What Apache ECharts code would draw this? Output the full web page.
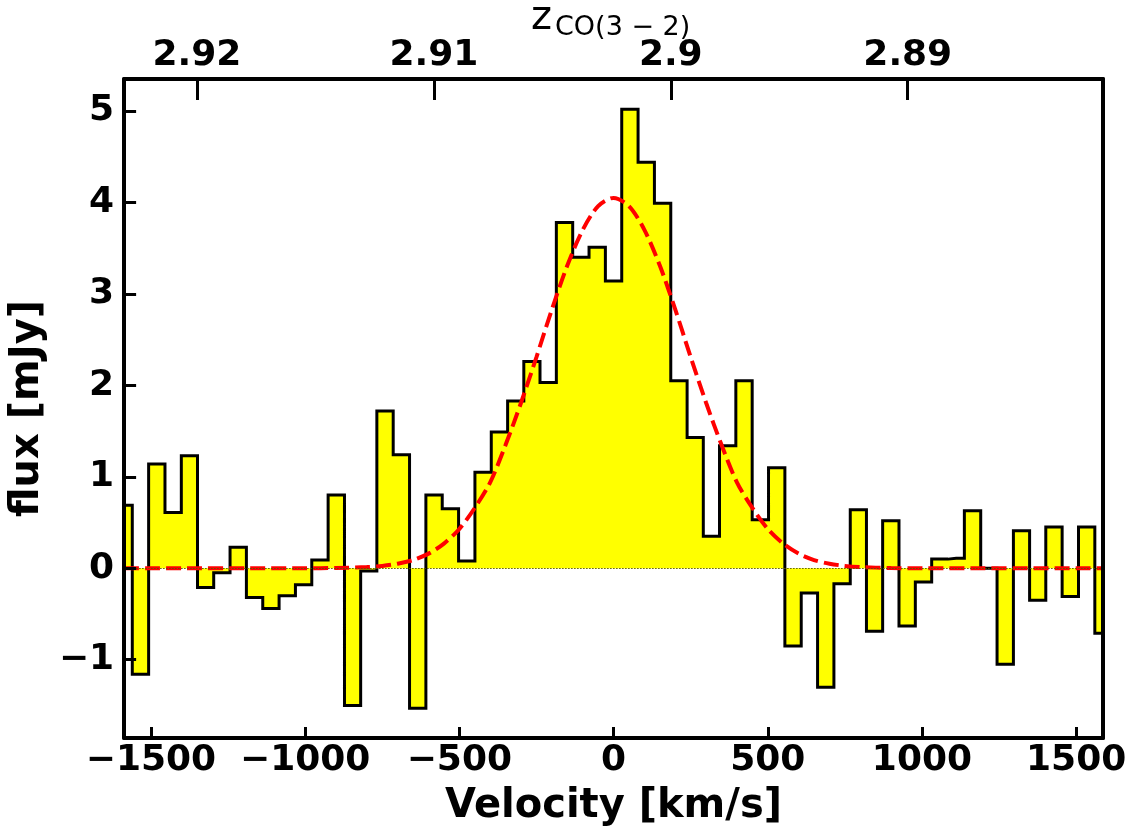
<!DOCTYPE html>
<html><head><meta charset="utf-8">
<script src="https://cdn.jsdelivr.net/npm/echarts@6/dist/echarts.min.js"></script>
<style>html,body{margin:0;padding:0;background:#fff}#c{width:1130px;height:832px}</style>
</head><body><div id="c"></div>
<script>
// Channel centres (km/s)
const velocity = [-1587,-1534,-1481,-1428,-1375,-1323,-1270,-1217,-1164,-1111,-1058,-1005,-952,-899,-846,-794,-741,-688,-635,-582,-529,-476,-423,-370,-317,-265,-212,-159,-106,-53,0,53,106,159,212,265,317,370,423,476,529,582,635,688,741,794,846,899,952,1005,1058,1111,1164,1217,1270,1323,1375,1428,1481,1534,1587];
// Flux per channel (mJy)
const flux = [0.69,-1.16,1.14,0.61,1.23,-0.21,-0.05,0.23,-0.32,-0.44,-0.30,-0.18,0.09,0.80,-1.50,-0.03,1.72,1.24,-1.53,0.80,0.65,0.08,1.05,1.49,1.83,2.26,2.03,3.78,3.40,3.51,3.14,5.02,4.44,3.99,2.05,1.43,0.35,1.34,2.05,0.53,1.10,-0.85,-0.27,-1.30,-0.17,0.64,-0.69,0.52,-0.63,-0.15,0.10,0.11,0.63,0.00,-1.05,0.41,-0.35,0.45,-0.31,0.45,-0.71];
// Gaussian fit curve
const fitVelocity = [-1587,-1000,-900,-800,-750,-700,-650,-600,-550,-500,-450,-400,-350,-300,-250,-200,-150,-100,-50,0,50,100,150,200,250,300,350,400,450,500,550,600,650,700,750,800,900,1000,1587];
const fitFlux = [0,0,0.003,0.013,0.026,0.05,0.09,0.16,0.27,0.43,0.66,0.94,1.35,1.81,2.31,2.83,3.31,3.70,3.96,4.05,3.96,3.70,3.31,2.83,2.31,1.81,1.35,0.94,0.66,0.43,0.27,0.16,0.09,0.05,0.026,0.013,0.003,0,0];
const xTicks = [-1500,-1000,-500,0,500,1000,1500];
const yTicks = [-1,0,1,2,3,4,5];
const zTicks = [2.89,2.9,2.91,2.92];

const FONT = 'DejaVu Sans';
const minus = v => String(v).replace('-', '\u2212');
const axisLineStyle = {show:true, onZero:false, lineStyle:{color:'#000', width:4}};

const chart = echarts.init(document.getElementById('c'), null, {renderer:'canvas'});
chart.setOption({
  animation:false,
  backgroundColor:'#fff',
  grid:{left:121, right:27, top:79, bottom:93, containLabel:false},
  xAxis:[{
    type:'value', position:'bottom', min:-1587, max:1587, z:5,
    axisLine:axisLineStyle,
    axisTick:{show:true, inside:true, length:11, customValues:xTicks, lineStyle:{color:'#000', width:3}},
    axisLabel:{customValues:xTicks, formatter:minus, color:'#000', fontFamily:FONT, fontWeight:'bold', fontSize:36, margin:5},
    splitLine:{show:false},
    name:'Velocity [km/s]', nameLocation:'middle', nameGap:49,
    nameTextStyle:{color:'#000', fontFamily:FONT, fontWeight:'bold', fontSize:40}
  },{
    type:'value', position:'top', inverse:true, min:2.88176, max:2.92307, z:5,
    axisLine:axisLineStyle,
    axisTick:{show:true, inside:true, length:21, customValues:zTicks, lineStyle:{color:'#000', width:3}},
    axisLabel:{customValues:zTicks, formatter:v=>String(v), color:'#000', fontFamily:FONT, fontWeight:'bold', fontSize:36, margin:5},
    splitLine:{show:false}
  }],
  yAxis:[{
    type:'value', position:'left', min:-1.856, max:5.35, z:5,
    axisLine:axisLineStyle,
    axisTick:{show:true, inside:true, length:12, customValues:yTicks, lineStyle:{color:'#000', width:3}},
    axisLabel:{customValues:yTicks, formatter:minus, color:'#000', fontFamily:FONT, fontWeight:'bold', fontSize:36, margin:10},
    splitLine:{show:false},
    name:'flux [mJy]', nameLocation:'middle', nameGap:72, nameRotate:90,
    nameTextStyle:{color:'#000', fontFamily:FONT, fontWeight:'bold', fontSize:40}
  },{
    type:'value', position:'right', min:-1.856, max:5.35, z:5,
    axisLine:axisLineStyle, axisTick:{show:false}, axisLabel:{show:false}, splitLine:{show:false}
  }],
  graphic:[
    {type:'text', x:531, y:19, z:10, style:{text:'z', font:'40px "DejaVu Sans"', fill:'#000', verticalAlign:'middle', align:'left'}},
    {type:'text', x:555, y:28, z:10, style:{text:'CO(3 \u2212 2)', font:'27px "DejaVu Sans"', fill:'#000', verticalAlign:'middle', align:'left'}}
  ],
  series:[{
    type:'line', step:'middle', xAxisIndex:0, yAxisIndex:0, symbol:'none', z:2,
    data: velocity.map((v,i)=>[v, flux[i]]),
    lineStyle:{color:'#000', width:3, join:'miter'},
    areaStyle:{color:'#ffff00', opacity:1, origin:0},
    markLine:{silent:true, symbol:'none', label:{show:false},
      lineStyle:{color:'#5a5a00', width:1, type:[1.5,1.5]}, data:[{yAxis:0}]}
  },{
    type:'line', xAxisIndex:0, yAxisIndex:0, symbol:'none', smooth:0.3, z:4,
    data: fitVelocity.map((v,i)=>[v, fitFlux[i]]),
    lineStyle:{color:'#ff0000', width:4, type:[15,6]}
  }]
});
</script></body></html>
